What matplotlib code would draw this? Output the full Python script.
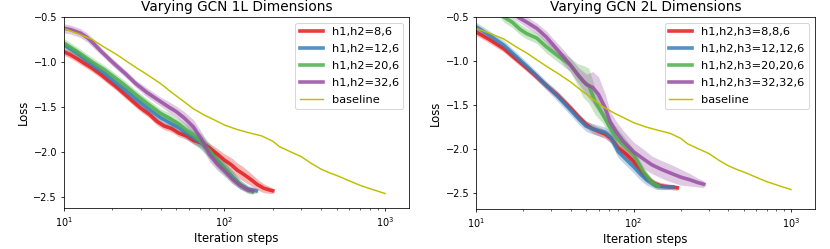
import matplotlib
matplotlib.use("Agg")
import matplotlib.pyplot as plt
import numpy as np

colors = ["#e41a1c", "#377eb8", "#4daf4a", "#984ea3"]

# baseline (same in both panels)
base_steps = [10, 12, 15, 18, 21, 24, 28, 33, 40, 47, 55, 64, 75, 88, 100, 120, 145,
              170, 200, 220, 260, 300, 350, 400, 450, 500, 600, 700, 850, 1000]
base_loss = [-0.63, -0.68, -0.75, -0.84, -0.91, -0.98, -1.06, -1.14, -1.24, -1.34,
             -1.43, -1.52, -1.59, -1.65, -1.70, -1.75, -1.79, -1.82, -1.88, -1.94,
             -2.00, -2.05, -2.13, -2.19, -2.23, -2.26, -2.32, -2.37, -2.42, -2.46]

# ---- 1L panel ----
l1_labels = ["h1,h2=8,6", "h1,h2=12,6", "h1,h2=20,6", "h1,h2=32,6"]
l1_steps = [
    [10, 11, 12, 13, 15, 17, 19, 21, 24, 27, 30, 34, 38, 42, 47, 52, 58, 64, 72, 80,
     90, 100, 110, 120, 130, 145, 160, 175, 190, 200],
    [10, 12, 15, 18, 21, 24, 28, 33, 40, 46, 52, 58, 64, 72, 81, 90, 100, 112, 125,
     140, 158],
    [10, 12, 15, 18, 21, 24, 28, 33, 40, 46, 52, 58, 64, 72, 81, 90, 100, 112, 125,
     140, 150],
    [10, 11, 12.7, 14, 15.2, 17, 20, 24.5, 28, 33, 40, 45, 50, 56, 64, 72, 81, 90,
     100, 112, 125, 140, 150],
]
l1_loss = [
    [-0.885, -0.92, -0.96, -1.00, -1.07, -1.14, -1.21, -1.27, -1.36, -1.44, -1.51,
     -1.58, -1.66, -1.71, -1.74, -1.79, -1.82, -1.87, -1.90, -1.95, -2.02, -2.09,
     -2.14, -2.20, -2.24, -2.30, -2.36, -2.40, -2.42, -2.43],
    [-0.81, -0.90, -1.03, -1.13, -1.23, -1.31, -1.41, -1.51, -1.62, -1.68, -1.73,
     -1.79, -1.84, -1.90, -1.99, -2.09, -2.18, -2.27, -2.36, -2.41, -2.43],
    [-0.79, -0.88, -1.00, -1.09, -1.18, -1.26, -1.36, -1.46, -1.57, -1.63, -1.69,
     -1.76, -1.81, -1.89, -1.99, -2.09, -2.18, -2.28, -2.36, -2.42, -2.44],
    [-0.625, -0.64, -0.68, -0.73, -0.79, -0.88, -1.00, -1.14, -1.24, -1.34, -1.44,
     -1.50, -1.55, -1.62, -1.72, -1.86, -2.03, -2.13, -2.21, -2.30, -2.37, -2.42,
     -2.43],
]
l1_band = [
    [0.04, 0.04, 0.04, 0.04, 0.04, 0.04, 0.04, 0.04, 0.04, 0.04, 0.04, 0.04, 0.04,
     0.04, 0.04, 0.04, 0.04, 0.04, 0.05, 0.05, 0.06, 0.07, 0.08, 0.08, 0.08, 0.07,
     0.06, 0.05, 0.04, 0.03],
    [0.04, 0.04, 0.04, 0.04, 0.05, 0.05, 0.05, 0.05, 0.06, 0.07, 0.07, 0.07, 0.07,
     0.07, 0.07, 0.07, 0.06, 0.06, 0.05, 0.04, 0.03],
    [0.05, 0.05, 0.05, 0.05, 0.05, 0.05, 0.05, 0.05, 0.05, 0.06, 0.06, 0.07, 0.08,
     0.09, 0.09, 0.09, 0.08, 0.07, 0.05, 0.04, 0.03],
    [0.05, 0.05, 0.05, 0.05, 0.05, 0.04, 0.04, 0.04, 0.04, 0.05, 0.05, 0.06, 0.06,
     0.07, 0.08, 0.08, 0.08, 0.07, 0.06, 0.05, 0.04, 0.03, 0.03],
]

# ---- 2L panel ----
l2_labels = ["h1,h2,h3=8,8,6", "h1,h2,h3=12,12,6", "h1,h2,h3=20,20,6", "h1,h2,h3=32,32,6"]
l2_steps = [
    [10, 12, 15, 18, 21, 24, 28, 33, 40, 45, 50, 55, 60, 66, 72, 80, 90, 100, 110,
     121, 135, 150, 170, 190],
    [10, 12, 15, 18, 21, 24, 28, 33, 40, 45, 50, 55, 60, 66, 72, 80, 90, 100, 110,
     121, 140, 160, 178],
    [10, 12, 13.5, 15, 17, 19, 21, 24.3, 28, 33, 39.5, 44, 47.7, 52, 57, 64, 70, 78,
     88, 100, 115, 131, 144],
    [10, 12, 14, 16, 19, 21, 24.3, 28, 31, 35, 39.5, 45, 50.4, 55, 60, 66, 71, 78,
     86, 100, 115, 131, 150, 170, 200, 229, 255, 280],
]
l2_loss = [
    [-0.67, -0.75, -0.86, -0.98, -1.08, -1.17, -1.28, -1.39, -1.54, -1.64, -1.72,
     -1.77, -1.80, -1.83, -1.88, -1.99, -2.06, -2.14, -2.24, -2.33, -2.39, -2.42,
     -2.43, -2.44],
    [-0.61, -0.70, -0.82, -0.95, -1.06, -1.16, -1.28, -1.40, -1.56, -1.66, -1.74,
     -1.77, -1.79, -1.81, -1.87, -2.03, -2.12, -2.20, -2.28, -2.35, -2.42, -2.43,
     -2.43],
    [-0.10, -0.28, -0.40, -0.50, -0.56, -0.64, -0.69, -0.74, -0.84, -0.94, -1.04,
     -1.15, -1.23, -1.28, -1.46, -1.61, -1.74, -1.875, -1.97, -2.06, -2.25, -2.38,
     -2.42],
    [-0.05, -0.20, -0.32, -0.42, -0.515, -0.56, -0.63, -0.73, -0.82, -0.93, -1.04,
     -1.17, -1.27, -1.30, -1.38, -1.53, -1.69, -1.81, -1.91, -2.03, -2.11, -2.18,
     -2.23, -2.27, -2.32, -2.35, -2.38, -2.40],
]
l2_band = [
    [0.04, 0.04, 0.04, 0.04, 0.04, 0.04, 0.04, 0.04, 0.04, 0.04, 0.04, 0.05, 0.05,
     0.05, 0.05, 0.05, 0.05, 0.05, 0.05, 0.05, 0.04, 0.04, 0.03, 0.03],
    [0.05, 0.05, 0.05, 0.05, 0.05, 0.05, 0.05, 0.06, 0.06, 0.06, 0.06, 0.06, 0.06,
     0.06, 0.07, 0.07, 0.07, 0.07, 0.07, 0.06, 0.04, 0.03, 0.03],
    [0.05, 0.05, 0.05, 0.06, 0.06, 0.06, 0.06, 0.06, 0.07, 0.07, 0.08, 0.12, 0.18,
     0.20, 0.15, 0.10, 0.10, 0.12, 0.10, 0.06, 0.05, 0.04, 0.04],
    [0.05, 0.05, 0.05, 0.05, 0.05, 0.06, 0.06, 0.07, 0.07, 0.08, 0.08, 0.09, 0.12,
     0.18, 0.20, 0.16, 0.12, 0.12, 0.12, 0.11, 0.11, 0.10, 0.10, 0.10, 0.09, 0.07,
     0.05, 0.04],
]

# the original looks like a bigger figure shrunk by ~0.7
s = 0.7
plt.rcParams.update({
    "font.size": 12 * s,
    "xtick.labelsize": 10 * s,
    "ytick.labelsize": 10 * s,
    "legend.fontsize": 8.2,
    "legend.labelspacing": 0.6,
    "legend.borderpad": 0.4,
    "axes.linewidth": 0.8 * s,
    "patch.linewidth": 1.0 * s,
    "xtick.major.size": 3.5 * s, "ytick.major.size": 3.5 * s,
    "xtick.major.width": 0.8 * s, "ytick.major.width": 0.8 * s,
    "xtick.minor.size": 2 * s, "xtick.minor.width": 0.6 * s,
    "xtick.major.pad": 3.5 * s, "ytick.major.pad": 3.5 * s,
    "axes.labelpad": 4 * s,
})

fig = plt.figure(figsize=(8.3, 2.49), dpi=100)
ax1 = fig.add_axes([0.077, 0.165, 0.416, 0.767])
ax2 = fig.add_axes([0.5735, 0.161, 0.408, 0.771])

panels = [
    (ax1, "Varying GCN 1L Dimensions", l1_labels, l1_steps, l1_loss, l1_band, -2.62),
    (ax2, "Varying GCN 2L Dimensions", l2_labels, l2_steps, l2_loss, l2_band, -2.68),
]

for ax, title, labels, steps, loss, band, ybot in panels:
    for i in range(4):
        x = np.array(steps[i])
        y = np.array(loss[i])
        b = np.array(band[i])
        ax.fill_between(x, y - b, y + b, color=colors[i], alpha=0.3, lw=0)
        ax.plot(x, y, color=colors[i], lw=2.6, alpha=0.85, label=labels[i])
    ax.plot(base_steps, base_loss, color="y", lw=1.05, label="baseline")
    ax.set_xscale("log")
    ax.set_xlim(10, 1413)
    ax.set_ylim(ybot, -0.5)
    ax.set_yticks([-0.5, -1.0, -1.5, -2.0, -2.5])
    ax.set_title(title, fontsize=14 * s, pad=6 * s)
    ax.set_xlabel("Iteration steps")
    ax.set_ylabel("Loss")
    ax.legend(loc="upper right")

fig.savefig("out.png", dpi=100)
